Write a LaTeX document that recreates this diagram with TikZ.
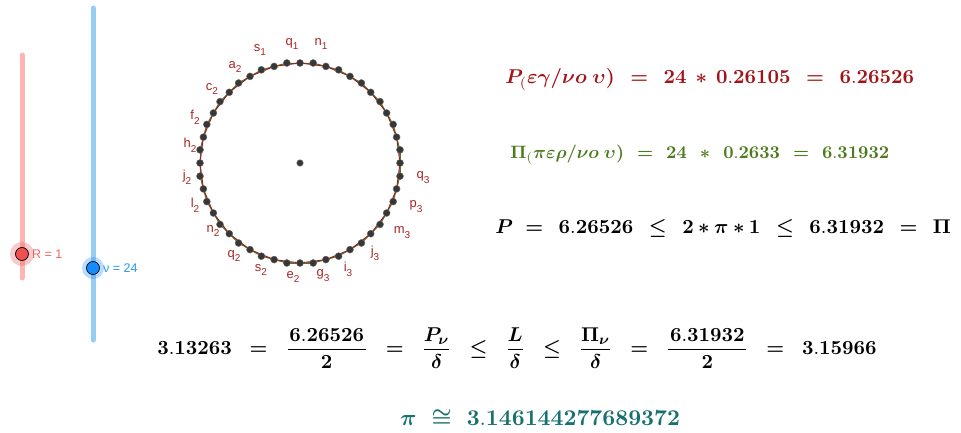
\documentclass[tikz,border=0pt]{standalone}
\usepackage{amsmath}
\usepackage{bm}
\usepackage[no-math]{fontspec}
\newfontfamily\arialf{Liberation Sans}
\usetikzlibrary{calc}
\definecolor{pred}{RGB}{163,20,24}
\definecolor{pgreen}{RGB}{78,122,30}
\definecolor{pteal}{RGB}{24,112,112}
\definecolor{lblred}{RGB}{168,38,38}
\definecolor{slred}{RGB}{255,180,180}
\definecolor{slredtxt}{RGB}{240,100,100}
\definecolor{slblue}{RGB}{150,205,245}
\definecolor{slbluetxt}{RGB}{40,150,240}
\definecolor{ptblue}{RGB}{20,140,255}
\definecolor{ptred}{RGB}{240,80,80}
\definecolor{dotgray}{RGB}{55,55,55}
\newcommand\lbl[2]{#1\raisebox{-0.38em}{\fontsize{10}{10}\selectfont #2}}
\newcommand\gpA{\mkern6mu}
\newcommand\gpB{\mkern8mu}
\newcommand\gpQ{\mkern9mu}
\newcommand\gpD{\mkern11mu}
\newcommand\gpE{\mkern7mu}
\newcommand\gpS{\mkern4mu}
\newcommand\gpF{\mkern1.5mu}
\newcommand\fone{$\bm{P}_{(}\bm{\varepsilon\gamma/\nu o}\;\bm{\upsilon)}\gpQ\bm{=}\gpQ\mathbf{24}\gpS\bm{*}\gpS\mathbf{0.26105}\gpQ\bm{=}\gpQ\mathbf{6.26526}$}
\newcommand\ftwo{$\bm{\Pi}_{(}\bm{\pi\varepsilon\rho/\nu o}\;\bm{\upsilon)}\gpB\bm{=}\gpB\mathbf{24}\gpQ\bm{*}\gpQ\mathbf{0.2633}\gpB\bm{=}\gpB\mathbf{6.31932}$}
\newcommand\fthree{$\bm{P}\gpA\bm{=}\gpQ\mathbf{6.26526}\gpQ\bm{\leq}\gpQ\mathbf{2}\bm{*}\bm{\pi}\bm{*}\mathbf{1}\gpQ\bm{\leq}\gpQ\mathbf{6.31932}\gpQ\bm{=}\gpQ\bm{\Pi}$}
\newcommand\ffour{$\mathbf{3.13263}\gpD\bm{=}\gpD\dfrac{\gpF\mathbf{6.26526}\gpF}{\mathbf{2}}\gpD\bm{=}\gpD\dfrac{\bm{P_\nu}}{\bm{\delta}}\gpD\bm{\leq}\gpD\dfrac{\bm{L}}{\bm{\delta}}\gpD\bm{\leq}\gpD\dfrac{\bm{\Pi_\nu}}{\bm{\delta}}\gpD\bm{=}\gpD\dfrac{\gpF\mathbf{6.31932}\gpF}{\mathbf{2}}\gpD\bm{=}\gpD\mathbf{3.15966}$}
\newcommand\ffive{$\bm{\pi}\gpE\bm{\cong}\gpE\mathbf{3.146144277689372}$}
\begin{document}
\begin{tikzpicture}[x=1pt,y=-1pt,
  vlabel/.style={font=\arialf\fontsize{13}{13}\selectfont,text=lblred,inner sep=0pt},
  vdot/.style={circle,fill=dotgray,draw=black!60,line width=0.4pt,minimum size=7pt,inner sep=0pt},
  fmla/.style={anchor=west,inner sep=0pt},
  sltxt/.style={anchor=west,inner sep=0pt,font=\arialf\fontsize{12.5}{12.5}\selectfont}]
\useasboundingbox[fill=white] (0,0) rectangle (961,433);
% sliders
\coordinate (rtop) at (22,55);
\coordinate (rbot) at (22,278);
\coordinate (btop) at (93,8);
\coordinate (bbot) at (93,340);
\draw[slred,line width=5pt,line cap=round] (rtop) -- (rbot);
\draw[slblue,line width=5pt,line cap=round] (btop) -- (bbot);
\fill[ptred,opacity=0.3] (22,254) circle (12);
\node[circle,fill=ptred,draw=black,line width=0.7pt,minimum size=13pt,inner sep=0pt] (rpt) at (22,254) {};
\node[sltxt,text=slredtxt] (rlab) at (32,254) {R = 1};
\fill[ptblue,opacity=0.3] (93,268) circle (11);
\node[circle,fill=ptblue,draw=black,line width=0.7pt,minimum size=13pt,inner sep=0pt] (bpt) at (93,268) {};
\node[sltxt,text=slbluetxt] (blab) at (103,268) {ν = 24};
% circle
\coordinate (O) at (300,163);
\draw[black!70,line width=0.5pt] (O) circle (100);
\foreach \k in {0,...,23}{
  \draw[pgreen,line width=0.9pt] ($(O)+({97.5+15*\k}:100.86)$) -- ($(O)+({112.5+15*\k}:100.86)$);
  \draw[pred,line width=0.9pt] ($(O)+({90+15*\k}:100)$) -- ($(O)+({105+15*\k}:100)$);
}
\foreach \k in {0,...,23}{
  \node[vdot] (a\k) at ($(O)+({90+15*\k}:100)$) {};
  \node[vdot] (b\k) at ($(O)+({97.5+15*\k}:100.86)$) {};
}
\node[vdot,minimum size=6.5pt] (ctr) at (O) {};
% labels
\node[vlabel] (ls1) at (260,50) {\lbl{s}{1}};
\node[vlabel] (lq1) at (292,44) {\lbl{q}{1}};
\node[vlabel] (ln1) at (321,44) {\lbl{n}{1}};
\node[vlabel] (la2) at (235,67) {\lbl{a}{2}};
\node[vlabel] (lc2) at (212,89) {\lbl{c}{2}};
\node[vlabel] (lf2) at (195,117) {\lbl{f}{2}};
\node[vlabel] (lh2) at (190,145) {\lbl{h}{2}};
\node[vlabel] (lj2) at (187,177) {\lbl{j}{2}};
\node[vlabel] (ll2) at (195,205) {\lbl{l}{2}};
\node[vlabel] (ln2) at (213,231) {\lbl{n}{2}};
\node[vlabel] (lq2) at (234,256) {\lbl{q}{2}};
\node[vlabel] (ls2) at (261,270) {\lbl{s}{2}};
\node[vlabel] (le2) at (293,277) {\lbl{e}{2}};
\node[vlabel] (lg3) at (323,276) {\lbl{g}{3}};
\node[vlabel] (li3) at (348,269) {\lbl{i}{3}};
\node[vlabel] (lj3) at (375,253) {\lbl{j}{3}};
\node[vlabel] (lm3) at (402,233) {\lbl{m}{3}};
\node[vlabel] (lp3) at (416,207) {\lbl{p}{3}};
\node[vlabel] (lq3) at (423,178) {\lbl{q}{3}};
% formulas
\node[fmla,text=pred,scale=2.0] (f1) at (505,80) {\fontsize{10}{12}\selectfont\fone};
\node[fmla,text=pgreen,scale=1.8] (f2) at (510,155) {\fontsize{10}{12}\selectfont\ftwo};
\node[fmla,text=black,scale=2.0] (f3) at (495,228) {\fontsize{10}{12}\selectfont\fthree};
\node[fmla,text=black,scale=2.0] (f4) at (157,348) {\fontsize{10}{12}\selectfont\ffour};
\node[fmla,text=pteal,scale=2.25] (f5) at (400,418) {\fontsize{10}{12}\selectfont\ffive};
\end{tikzpicture}
\end{document}
